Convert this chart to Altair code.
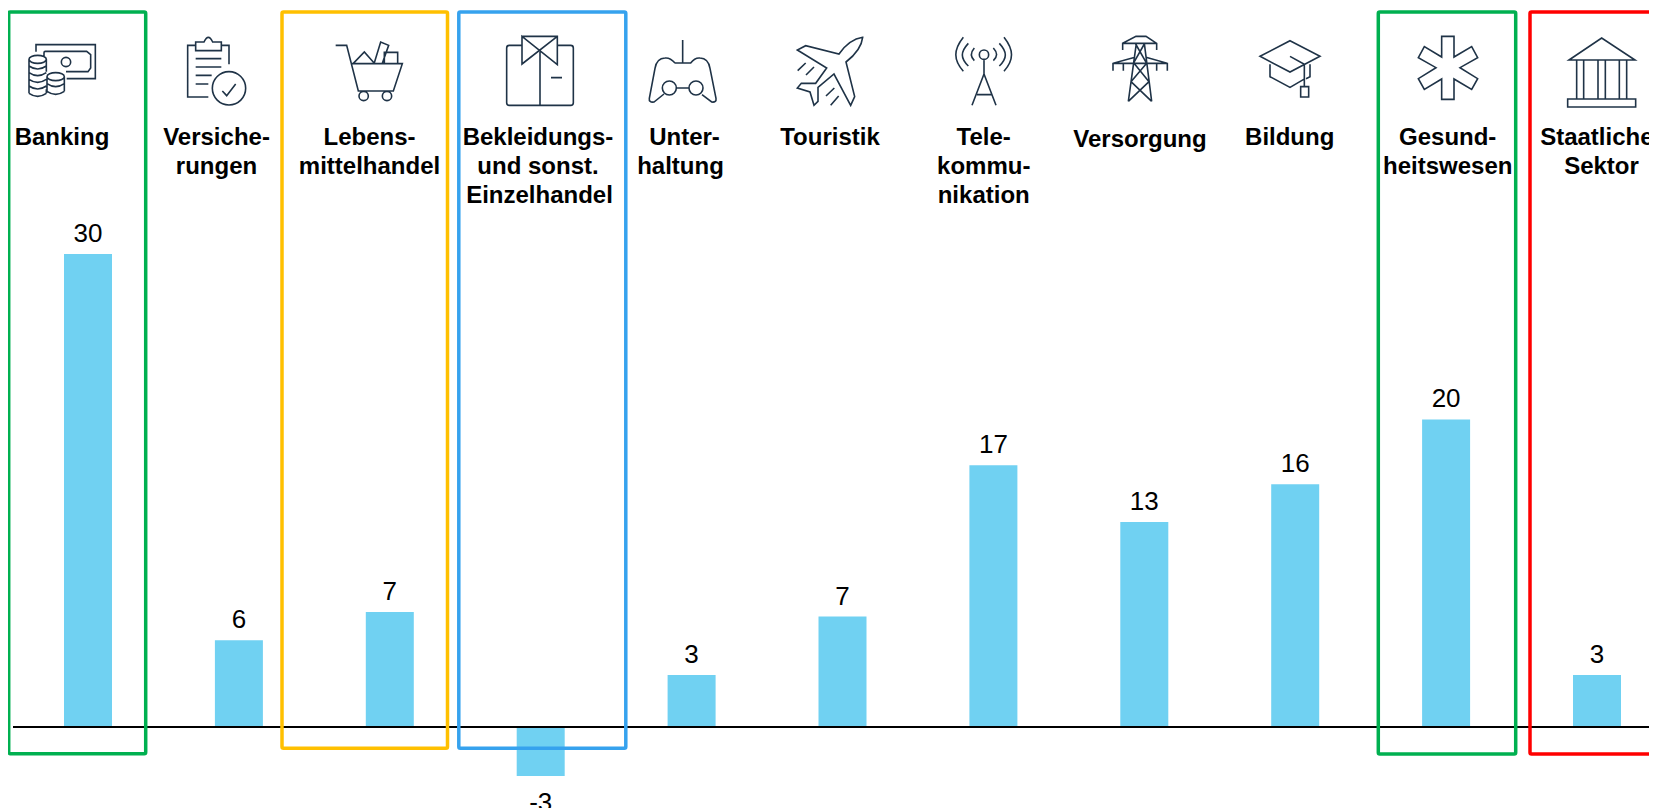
import re
import altair as alt
import pandas as pd

# ---- data ----
categories = ["Banking", "Versicherungen", "Lebensmittelhandel", "Bekleidung und sonst. Einzelhandel",
              "Unterhaltung", "Touristik", "Telekommunikation", "Versorgung", "Bildung",
              "Gesundheitswesen", "Staatlicher Sektor"]
values = [30.0, 5.5, 7.3, -3.1, 3.3, 7.0, 16.6, 13.0, 15.4, 19.5, 3.3]
value_labels = ["30", "6", "7", "-3", "3", "7", "17", "13", "16", "20", "3"]
label_lines = [["Banking"], ["Versiche-", "rungen"], ["Lebens-", "mittelhandel"],
               ["Bekleidungs-", "und sonst.", "Einzelhandel"], ["Unter-", "haltung"], ["Touristik"],
               ["Tele-", "kommu-", "nikation"], ["Versorgung"], ["Bildung"],
               ["Gesund-", "heitswesen"], ["Staatlicher", "Sektor"]]
highlight = {0: "#00B050", 2: "#FFC000", 3: "#36A2EE", 9: "#00B050", 10: "#FF0000"}

# ---- layout (screen pixels) ----
W, H = 1641, 800
STEP, FIRST = 150.9, 88.0
BASE_Y, UNIT = 727.0, 15.77


def to_x(px):
    return (px - FIRST) / STEP


def to_y(py):
    return (BASE_Y - py) / UNIT


def center(i):
    return FIRST + STEP * i


x_scale = alt.Scale(domain=[to_x(8), to_x(8 + W)], range=[0, W], nice=False, zero=False, padding=0)
y_scale = alt.Scale(domain=[to_y(8 + H), to_y(8)], range=[H, 0], nice=False, zero=False, padding=0)

label_centers = [62, 216.5, 369.5, 538, 680.5, 830, 983.7, 1140, 1289.7, 1447.7, 1601.5]
label_first_baseline = [145, 145, 145, 145, 145, 145, 145, 147, 145, 145, 145]
line_nudge = {"Unter-": 4.0, "Einzelhandel": 1.5}
LINE_H = 28.9

box_edges = {0: (8.7, 145.7, 753.7), 2: (282, 447.5, 748.3), 3: (458.8, 625.8, 748.3),
             9: (1378.3, 1515.7, 754), 10: (1530, 1700, 754)}
BOX_TOP = 12


# ---- icons: outlines in 3x crop units ----
def circle(cx, cy, r):
    k = 0.5523 * r
    return (f"M{cx-r} {cy} C{cx-r} {cy-k} {cx-k} {cy-r} {cx} {cy-r} "
            f"C{cx+k} {cy-r} {cx+r} {cy-k} {cx+r} {cy} "
            f"C{cx+r} {cy+k} {cx+k} {cy+r} {cx} {cy+r} "
            f"C{cx-k} {cy+r} {cx-r} {cy+k} {cx-r} {cy} Z ")


def ellipse(cx, cy, rx, ry):
    k = 0.5523
    return (f"M{cx-rx} {cy} C{cx-rx} {cy-k*ry} {cx-k*rx} {cy-ry} {cx} {cy-ry} "
            f"C{cx+k*rx} {cy-ry} {cx+rx} {cy-k*ry} {cx+rx} {cy} "
            f"C{cx+rx} {cy+k*ry} {cx+k*rx} {cy+ry} {cx} {cy+ry} "
            f"C{cx-k*rx} {cy+ry} {cx-rx} {cy+k*ry} {cx-rx} {cy} Z ")


def smile(cx, cy, rx, ry):
    return f"M{cx-rx} {cy} Q{cx} {cy+2*ry} {cx+rx} {cy} "


def shift(path, dx, dy):
    nums = re.compile(r"(-?\d+(?:\.\d+)?)\s+(-?\d+(?:\.\d+)?)")
    return nums.sub(lambda m: f"{float(m.group(1))+dx:.2f} {float(m.group(2))+dy:.2f}", path)


banking = ("M48 65 L48 44 L226 44 L226 146 L140 146 "
           "M72 78 L72 68 Q72 64 76 64 L200 64 L212 74 L212 114 L204 125 L138 125 "
           + circle(138, 96, 14) + ellipse(53, 88, 26, 12)
           + "M27 88 L27 190 M79 88 L79 125 M79 178 L79 190 "
           + "".join(smile(53, y, 26, 9) for y in (108, 128, 148, 168, 190))
           + ellipse(107, 140, 26, 12) + "M81 140 L81 184 M133 140 L133 184 "
           + smile(107, 161, 26, 9) + smile(107, 184, 26, 9))
insurance = ("M527 46 L503 46 L503 201 L565 201 M605 46 L627 46 L627 103 "
             "M527 62 L527 36 L552 36 Q565 8 578 36 L604 36 L604 62 Z "
             "M527 86 L604 86 M527 111 L604 111 M527 136 L575 136 M527 162 L565 162 "
             + circle(627, 175, 50) + "M607 183 L620 197 L647 162")
cart = ("M32 46 L65 46 L100 183 L205 183 L232 101 L80 101 "
        + circle(116, 198, 14) + circle(186, 198, 14)
        + "M85 100 L118 66 L148 100 M148 98 L167 36 L191 46 L172 100 M178 100 L178 67 L218 67 L218 100")
shirt = ("M591 46 L553 46 Q545 46 545 54 L545 218 Q545 226 553 226 L737 226 Q745 226 745 218 L745 54 "
         "Q745 46 737 46 L697 46 M591 19 L697 19 L697 104 L591 19 L591 102 L697 19 "
         "M645 65 L645 226 M678 143 L711 143")
gamepad = ("M128 30 L128 99 M105 99 L152 99 Q165 82 180 84 Q205 85 210 115 L228 205 Q230 218 215 216 L186 194 "
           "M105 99 Q90 82 75 84 Q50 85 45 115 L28 205 Q26 218 42 216 L72 192 "
           + circle(88, 174, 21) + circle(168, 174, 21) + "M109 174 L147 174")
plane = ("M668 22 Q628 28 597 72 L497 47 L472 60 L560 114 L527 160 L484 160 L472 174 L510 186 L522 226 "
         "L534 214 L534 172 L582 132 L632 226 L644 200 L618 96 Q664 60 668 22 Z "
         "M473 122 L497 99 M498 135 L522 111 M558 198 L583 174 M572 226 L596 198")
antenna = (circle(117, 74, 14)
           + "M88 54 C76 68 76 80 88 92 M145 54 C158 68 158 80 145 92 "
             "M70 40 C46 66 46 84 70 108 M163 40 C187 66 187 84 163 108 "
             "M55 22 C25 60 25 90 55 124 M177 22 C207 60 207 90 177 124 "
             "M117 88 L117 132 M117 132 L81 226 M117 132 L153 226 M96 194 L140 194")
pylon = ("M533 60 L533 40 L573 19 L603 19 L635 40 L635 60 M533 40 L635 40 "
         "M504 122 L504 100 L570 82 M667 122 L667 100 L603 82 M504 100 L667 100 "
         "M535 100 L535 122 M635 100 L635 122 M574 40 L550 214 M598 40 L620 214 "
         "M572 42 L605 100 M598 42 L565 100 M567 100 L612 155 M605 100 L558 155 "
         "M558 155 L620 214 M612 155 L550 214")
cap = ("M120 32 L210 79 L120 126 L30 79 Z M60 103 L60 140 L120 172 L165 146 M180 103 L180 140 L168 146 "
       "M120 79 L163 103 L163 170 M152 170 L176 170 L176 201 L152 201 Z")
star = ("M605 103 L642 103 L642 165 L695 134 L713 167 L660 197 L713 230 L695 262 L642 231 L642 292 "
        "L605 292 L605 231 L553 262 L535 230 L588 197 L535 167 L553 134 L605 165 Z")
bank = ("M57 90 L155 24 L255 90 Z M80 90 L80 207 M101 90 L101 207 M144 90 L144 207 M166 90 L166 207 "
        "M208 90 L208 207 M230 90 L230 207 M53 207 L257 207 L257 231 L53 231 Z")

ICON_TOP = 28
ICON_NUDGE = 2
icon_defs = [(banking, 20, 28), (insurance, 20, 28), (cart, 325, 28), (shirt, 325, 28),
             (gamepad, 640, 28), (plane, 640, 28), (antenna, 945, 28), (pylon, 945, 28),
             (cap, 1250, 28), (star, 1240, 0), (bank, 1550, 28)]
icon_paths = [shift(p, (cx - center(i)) * 3, (cy - ICON_TOP) * 3) for i, (p, cx, cy) in enumerate(icon_defs)]

# ---- tables ----
bars = pd.DataFrame({"idx": range(len(categories)), "category": categories, "value": values,
                     "label": value_labels, "icon": icon_paths})
text_rows = pd.DataFrame([
    {"x": to_x(label_centers[i] + line_nudge.get(line, 0)),
     "y": to_y(label_first_baseline[i] + j * LINE_H), "line": line}
    for i, lines in enumerate(label_lines) for j, line in enumerate(lines)])
boxes = pd.DataFrame([
    {"x0": to_x(l), "x1": to_x(r), "y0": to_y(BOX_TOP), "y1": to_y(b), "color": highlight[k]}
    for k, (l, r, b) in box_edges.items()])
axis_line = pd.DataFrame({"x0": [to_x(13)], "x1": [to_x(1700)], "y": [0.0]})

# ---- layers ----
X = alt.X("idx:Q", scale=x_scale, axis=None)
Y = alt.Y("value:Q", scale=y_scale, axis=None)

bar_layer = alt.Chart(bars).mark_bar(size=48, color="#70D1F2").encode(x=X, y=Y, y2=alt.Y2(datum=0))

rule_layer = alt.Chart(axis_line).mark_rule(color="#000000", strokeWidth=2).encode(
    x=alt.X("x0:Q", scale=x_scale, axis=None), x2="x1:Q", y=alt.Y("y:Q", scale=y_scale, axis=None))

value_pos = alt.Chart(bars).transform_filter("datum.value >= 0").mark_text(
    font="Liberation Sans", fontSize=26, color="#000000", baseline="alphabetic", align="center", dy=-12
).encode(x=X, y=Y, text="label:N")
value_neg = alt.Chart(bars).transform_filter("datum.value < 0").mark_text(
    font="Liberation Sans", fontSize=26, color="#000000", baseline="alphabetic", align="center", dy=35
).encode(x=X, y=Y, text="label:N")

name_layer = alt.Chart(text_rows).mark_text(
    font="Liberation Sans", fontSize=24, fontWeight="bold", color="#000000", baseline="alphabetic", align="center"
).encode(x=alt.X("x:Q", scale=x_scale, axis=None),
         y=alt.Y("y:Q", scale=y_scale, axis=None),
         text="line:N")

box_layer = alt.Chart(boxes).mark_rect(fillOpacity=0, strokeWidth=3.5, cornerRadius=1.5).encode(
    x=alt.X("x0:Q", scale=x_scale, axis=None), x2="x1:Q",
    y=alt.Y("y0:Q", scale=y_scale, axis=None), y2="y1:Q",
    stroke=alt.Stroke("color:N", scale=None))

icon_layer = alt.Chart(bars).mark_point(
    filled=False, stroke="#1F3347", strokeWidth=1.6, opacity=1, size=4 / 9
).encode(x=X, y=alt.value(ICON_TOP - 8 + ICON_NUDGE), shape=alt.Shape("icon:N", scale=None))

chart = alt.layer(bar_layer, rule_layer, value_pos, value_neg, box_layer, icon_layer, name_layer).properties(
    width=W, height=H, padding=0, autosize=alt.AutoSizeParams(type="none")
).configure_view(stroke=None)

chart.save("out.html", embed_options={"renderer": "svg", "actions": False})
